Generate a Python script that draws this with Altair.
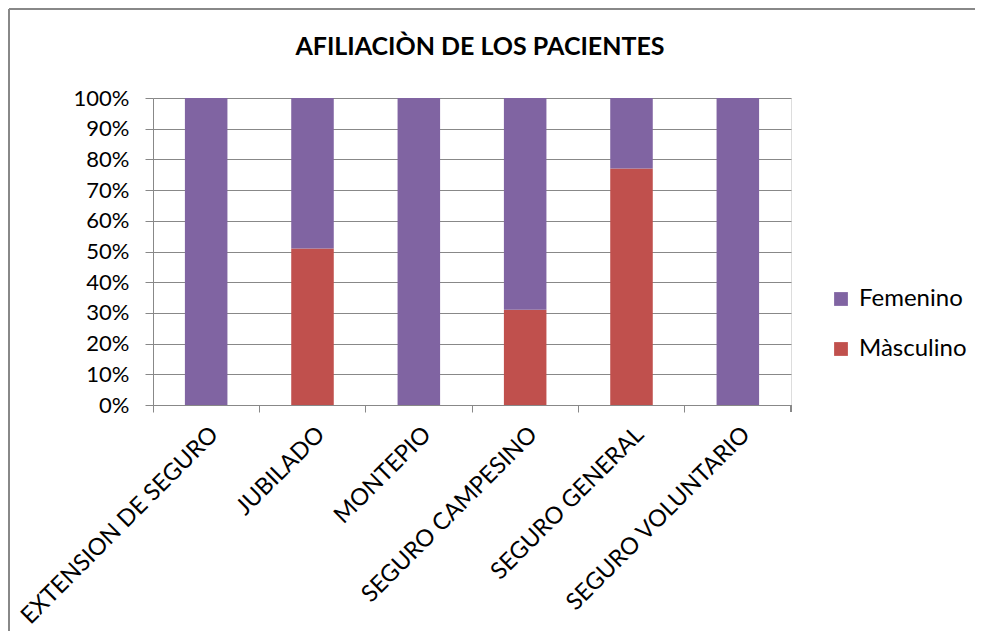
import altair as alt
import pandas as pd

categories = ["EXTENSION DE SEGURO", "JUBILADO", "MONTEPIO", "SEGURO CAMPESINO",
              "SEGURO GENERAL", "SEGURO VOLUNTARIO"]
masculino = [0, 51, 0, 31, 77, 0]
femenino = [100, 49, 100, 69, 23, 100]
series = ["Femenino", "Màsculino"]
colors = ["#8064A2", "#C0504D"]
y_ticks = [0, 0.1, 0.2, 0.3, 0.4, 0.5, 0.6, 0.7, 0.8, 0.9, 1.0]
title_text = ["AFILIACIÒN DE LOS PACIENTES"]

rows = []
for c, m, f in zip(categories, masculino, femenino):
    rows.append({"cat": c, "serie": "Màsculino", "value": m, "ord": 0})
    rows.append({"cat": c, "serie": "Femenino", "value": f, "ord": 1})
df = pd.DataFrame(rows)

W, H = 638, 307
PL, PT, PR, PB = 145, 90, 184, 226
FONT = "Lato"
GRAY = "#888888"

bars = alt.Chart(df).mark_bar(width=alt.RelativeBandSize(0.4)).encode(
    x=alt.X("cat:N", sort=categories, title=None,
            scale=alt.Scale(paddingInner=0, paddingOuter=0),
            axis=alt.Axis(bandPosition=0, labelAngle=-45,
                          labelFont=FONT, labelFontSize=23.5, labelColor="black",
                          labelPadding=10, tickSize=7, tickColor=GRAY, domainColor=GRAY,
                          domainWidth=1, tickWidth=1, grid=False, labelLimit=400)),
    y=alt.Y("value:Q", stack="normalize", title=None,
            scale=alt.Scale(domain=[0, 1], nice=False),
            axis=alt.Axis(values=y_ticks, format=".0%", labelFont=FONT, labelFontSize=22,
                          labelColor="black", labelPadding=16, tickSize=8, tickColor=GRAY,
                          tickWidth=1, domainColor=GRAY, domainWidth=1,
                          grid=True, gridColor=GRAY, gridWidth=1, gridOpacity=1)),
    color=alt.Color("serie:N", scale=alt.Scale(domain=series, range=colors), title=None,
                    legend=alt.Legend(orient="none", legendX=676, legendY=189,
                                      symbolType="square", symbolSize=190,
                                      symbolStrokeWidth=0, labelFont=FONT,
                                      labelFontSize=24, labelColor="black",
                                      rowPadding=26, labelOffset=6, padding=0)),
    order=alt.Order("ord:Q", sort="ascending"),
)

end_tick = alt.Chart(df).mark_rule(color=GRAY, strokeWidth=1).encode(
    x=alt.value(W), y=alt.value(H), y2=alt.value(H + 7))

title = alt.Chart(pd.DataFrame({"t": title_text})).mark_text(
    font=FONT, fontSize=25, fontWeight="bold", color="black",
    align="center", baseline="alphabetic").encode(
    text="t:N", x=alt.value(W / 2 + 8), y=alt.value(-43))

border_top = alt.Chart(df).mark_rule(color=GRAY, strokeWidth=2).encode(
    x=alt.value(-PL + 1), x2=alt.value(W + PR), y=alt.value(-PT + 1))
border_left = alt.Chart(df).mark_rule(color=GRAY, strokeWidth=2).encode(
    x=alt.value(-PL + 1), y=alt.value(-PT + 1), y2=alt.value(H + PB))

chart = alt.layer(bars, end_tick, title, border_top, border_left).properties(
    width=W, height=H,
    padding={"left": PL, "top": PT, "right": PR, "bottom": PB},
    autosize=alt.AutoSizeParams(type="none"),
).configure_view(stroke=None).configure(background="white")

chart.save("out.html", embed_options={"renderer": "svg", "actions": False})
